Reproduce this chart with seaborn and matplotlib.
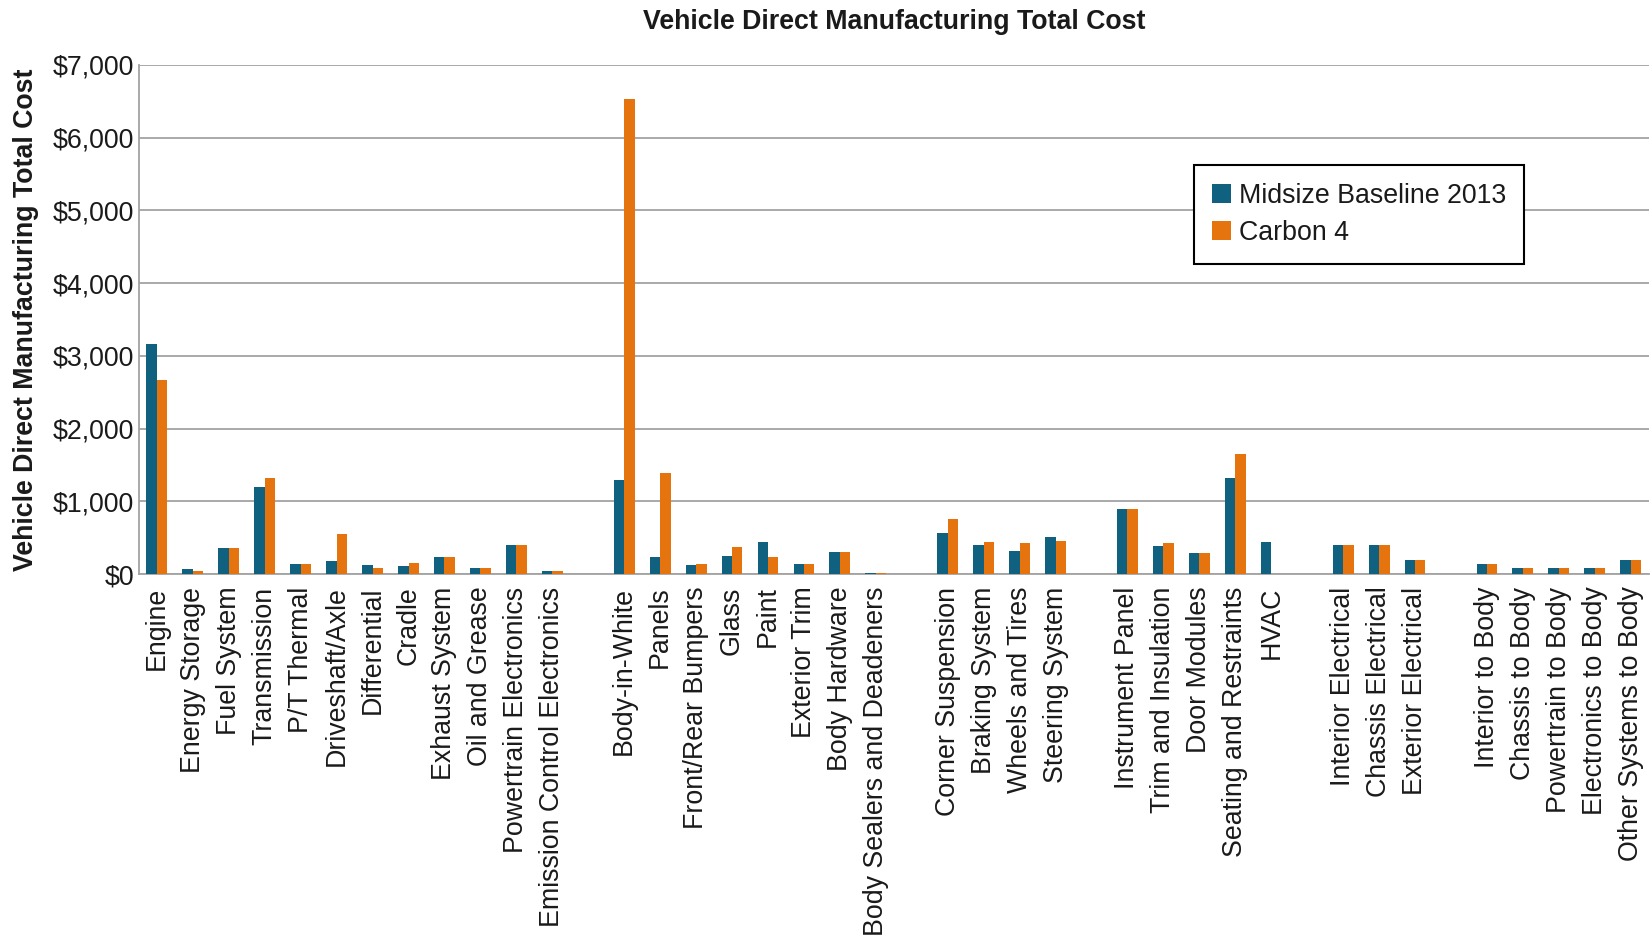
import numpy as np
import pandas as pd
import matplotlib
matplotlib.use("Agg")
import matplotlib.pyplot as plt
from matplotlib.ticker import StrMethodFormatter
import seaborn as sns

# Vehicle subsystems, grouped by system (powertrain, body, chassis, interior, electrical, integration)
powertrain = ["Engine", "Energy Storage", "Fuel System", "Transmission", "P/T Thermal",
              "Driveshaft/Axle", "Differential", "Cradle", "Exhaust System", "Oil and Grease",
              "Powertrain Electronics", "Emission Control Electronics"]
body = ["Body-in-White", "Panels", "Front/Rear Bumpers", "Glass", "Paint", "Exterior Trim",
        "Body Hardware", "Body Sealers and Deadeners"]
chassis = ["Corner Suspension", "Braking System", "Wheels and Tires", "Steering System"]
interior = ["Instrument Panel", "Trim and Insulation", "Door Modules", "Seating and Restraints", "HVAC"]
electrical = ["Interior Electrical", "Chassis Electrical", "Exterior Electrical"]
integration = ["Interior to Body", "Chassis to Body", "Powertrain to Body", "Electronics to Body",
               "Other Systems to Body"]
groups = [powertrain, body, chassis, interior, electrical, integration]

series_names = ["Midsize Baseline 2013", "Carbon 4"]

# Direct manufacturing cost per subsystem (USD)
baseline_2013 = [3160, 70, 360, 1195, 142, 175, 123, 104, 228, 81, 403, 38,
                 1286, 228, 119, 247, 441, 133, 304, 14,
                 569, 403, 313, 503,
                 892, 384, 289, 1324, 441,
                 394, 394, 195,
                 133, 85, 85, 76, 199]
carbon_4 = [2665, 40, 360, 1325, 142, 545, 85, 152, 228, 81, 403, 38,
            6527, 1390, 142, 375, 237, 133, 304, 14,
            754, 436, 422, 460,
            892, 422, 289, 1651, np.nan,
            394, 394, 195,
            133, 85, 85, 76, 199]

y_ticks = [0, 1000, 2000, 3000, 4000, 5000, 6000, 7000]

categories = [c for g in groups for c in g]

# Category order with an empty slot between system groups
order = []
for i, g in enumerate(groups):
    order.extend(g)
    if i < len(groups) - 1:
        order.append(" " * (i + 1))

df = pd.DataFrame({
    "subsystem": categories * 2,
    "series": [series_names[0]] * len(categories) + [series_names[1]] * len(categories),
    "cost": baseline_2013 + carbon_4,
})

sns.set_style("white")
plt.rcParams["font.family"] = ["Liberation Sans", "DejaVu Sans"]
FS = 19.3

fig = plt.figure(figsize=(16.52, 9.39), dpi=100)
ax = fig.add_axes([0.0841, 0.3887, 0.9139, 0.5421])

palette = {series_names[0]: "#10607f", series_names[1]: "#e5740e"}
sns.barplot(data=df, x="subsystem", y="cost", hue="series", order=order,
            hue_order=series_names, palette=palette, width=0.58, saturation=1,
            errorbar=None, linewidth=0, ax=ax, zorder=3)

ax.set_xlim(-0.5, len(order) - 0.5)
ax.set_ylim(0, 7000)
ax.set_yticks(y_ticks)
ax.yaxis.set_major_formatter(StrMethodFormatter("${x:,.0f}"))

ax.grid(axis="y", color="#a3a3a3", linewidth=1.3, zorder=0)
ax.grid(axis="x", visible=False)
for side in ["top", "right"]:
    ax.spines[side].set_visible(False)
for side in ["left", "bottom"]:
    ax.spines[side].set_color("#a3a3a3")
    ax.spines[side].set_linewidth(1.3)

ax.tick_params(axis="y", length=0, pad=3.5, labelsize=FS, labelcolor="#1a1a1a")
ax.tick_params(axis="x", length=0, pad=9, labelsize=FS, labelcolor="#1a1a1a")
ax.set_xticks(range(len(order)))
ax.set_xticklabels(order, rotation=90, ha="center", va="top")

ax.set_xlabel("")
ax.set_ylabel("Vehicle Direct Manufacturing Total Cost", fontsize=FS, fontweight="bold",
              color="#1a1a1a")
ax.yaxis.set_label_coords(-0.066, 0.5)

fig.text(0.5412, 0.977, "Vehicle Direct Manufacturing Total Cost", fontsize=FS,
         fontweight="bold", ha="center", va="center", color="#1a1a1a")

leg = ax.legend(loc="upper left", bbox_to_anchor=(0.6987, 0.8035), borderaxespad=0,
                fontsize=FS, frameon=True, fancybox=False, handlelength=0.72,
                handleheight=0.72, handletextpad=0.3, labelspacing=0.42,
                borderpad=0.67)
frame = leg.get_frame()
frame.set_edgecolor("black")
frame.set_linewidth(1.5)
frame.set_facecolor("white")
frame.set_alpha(1)
leg.set_zorder(5)
for t in leg.get_texts():
    t.set_color("#1a1a1a")

fig.savefig("out.png", dpi=100, facecolor="white")
